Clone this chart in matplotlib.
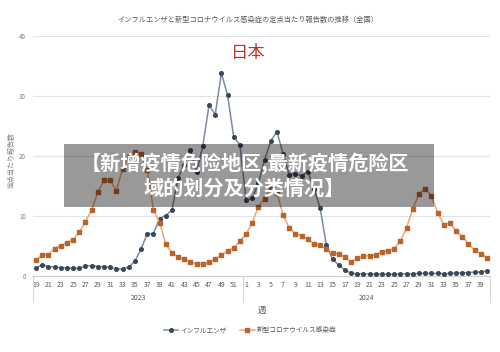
import matplotlib
matplotlib.use("Agg")
import matplotlib.pyplot as plt
import matplotlib.transforms as mtransforms
from matplotlib.patches import Rectangle

plt.rcParams["font.family"] = ["Noto Sans CJK JP", "DejaVu Sans"]

# weeks: 2023 wk19-52, 2024 wk1-40
weeks_2023 = list(range(19, 53))
weeks_2024 = list(range(1, 41))

flu_2023 = [1.3, 1.8, 1.5, 1.4, 1.3, 1.25, 1.2, 1.2, 1.6, 1.65, 1.5, 1.5, 1.35, 1.1, 1.05, 1.4,
            2.4, 4.4, 7.0, 7.0, 9.5, 10.0, 10.9, 16.3, 18.5, 21.0, 17.3, 21.6, 28.4, 26.8, 33.7,
            30.1, 23.1, 21.8]
flu_2024 = [12.6, 12.9, 15.4, 19.3, 22.4, 24.0, 20.2, 16.8, 17.0, 16.6, 17.3, 14.5, 11.2, 5.1,
            2.7, 1.75, 0.9, 0.4, 0.3, 0.3, 0.25, 0.25, 0.2, 0.2, 0.2, 0.25, 0.3, 0.3, 0.35, 0.35,
            0.35, 0.35, 0.3, 0.35, 0.4, 0.45, 0.5, 0.55, 0.6, 0.75]

covid_2023 = [2.6, 3.4, 3.5, 4.5, 5.0, 5.5, 6.0, 7.2, 9.0, 10.9, 13.9, 15.9, 15.9, 14.1, 17.8,
              19.8, 20.6, 20.3, 17.6, 11.0, 8.8, 5.25, 3.8, 3.1, 2.7, 2.3, 1.9, 1.9, 2.3, 2.75,
              3.4, 4.1, 4.6, 5.7]
covid_2024 = [6.9, 8.8, 11.5, 12.8, 14.5, 13.8, 10.1, 7.9, 7.0, 6.6, 6.1, 5.2, 5.1, 4.4, 3.7,
              3.6, 3.1, 2.25, 2.85, 3.25, 3.3, 3.5, 4.0, 4.15, 4.5, 5.75, 8.0, 11.1, 13.6, 14.5,
              13.3, 10.5, 8.5, 8.8, 7.4, 6.5, 5.25, 4.25, 3.6, 3.0]

years = ["2023", "2024"]
title = "インフルエンザと新型コロナウイルス感染症の定点当たり報告数の推移（全国）"
overlay = "【新增疫情危险地区,最新疫情危险区\n域的划分及分类情况】"

weeks = weeks_2023 + weeks_2024
flu = flu_2023 + flu_2024
covid = covid_2023 + covid_2024
x = list(range(len(weeks)))

fig = plt.figure(figsize=(5.0, 3.52), dpi=100)
ax = fig.add_axes([0.066, 0.2173, 0.914, 0.6818])

ax.plot(x, flu, color="#7b8ba3", lw=1.1, marker="o", ms=2.6,
        mfc="#3b4659", mec="#3b4659", label="インフルエンザ", zorder=3)
ax.plot(x, covid, color="#eba772", lw=1.1, marker="s", ms=2.8,
        mfc="#b8642c", mec="#b8642c", label="新型コロナウイルス感染症", zorder=3)

ax.set_xlim(-0.5, len(weeks) - 0.5)
ax.set_ylim(0, 40)
ax.set_yticks([0, 10, 20, 30, 40])
ax.set_xticks(x[::2])
ax.set_xticklabels([str(w) for w in weeks[::2]])
ax.tick_params(axis="x", length=0, pad=4, labelsize=5, labelcolor="#595959")
ax.tick_params(axis="y", length=0, pad=5, labelsize=4.5, labelcolor="#7f7f7f")
ax.grid(axis="y", color="#e3e3e3", lw=0.8)
ax.set_axisbelow(True)
for s in ["top", "right", "left"]:
    ax.spines[s].set_visible(False)
ax.spines["bottom"].set_color("#d0d0d0")
ax.spines["bottom"].set_linewidth(0.8)

# year group labels and separators under the axis
trans = mtransforms.blended_transform_factory(ax.transData, ax.transAxes)
n23 = len(weeks_2023)
for xs in [-0.5, n23 - 0.5, len(weeks) - 0.5]:
    ax.plot([xs, xs], [0, -0.11], transform=trans, color="#d9d9d9", lw=0.8, clip_on=False)
ax.text((n23 - 1) / 2, -0.094, years[0], transform=trans, ha="center", va="center",
        fontsize=5, color="#595959")
ax.text(n23 + (len(weeks_2024) - 1) / 2, -0.094, years[1], transform=trans, ha="center",
        va="center", fontsize=5, color="#595959")

fig.text(0.523, 0.117, "週", ha="center", va="center", fontsize=6, color="#595959")
fig.text(0.024, 0.545, "定点当たり報告数", ha="center", va="center", rotation=90,
         fontsize=5, color="#7f7f7f")
fig.text(0.495, 0.943, title, ha="center", va="center", fontsize=5.2, color="#595959")
fig.text(0.496, 0.85, "日本", ha="center", va="center", fontsize=12.5, color="#b03a2a")

fig.legend(loc="center", bbox_to_anchor=(0.5, 0.062), ncol=2, frameon=False,
           fontsize=4.8, labelcolor="#595959", handlelength=2.2, columnspacing=2.0,
           handletextpad=0.3)

# grey banner overlay
fig.patches.append(Rectangle((0.128, 0.412), 0.74, 0.179, transform=fig.transFigure,
                             facecolor="black", alpha=0.4, edgecolor="none", zorder=5))
fig.text(0.489, 0.502, overlay, ha="center", va="center", fontsize=14.5, color="white",
         fontweight="bold", family=["Noto Sans CJK SC", "DejaVu Sans"],
         linespacing=1.25, zorder=6)

fig.savefig("out.png", dpi=100)
